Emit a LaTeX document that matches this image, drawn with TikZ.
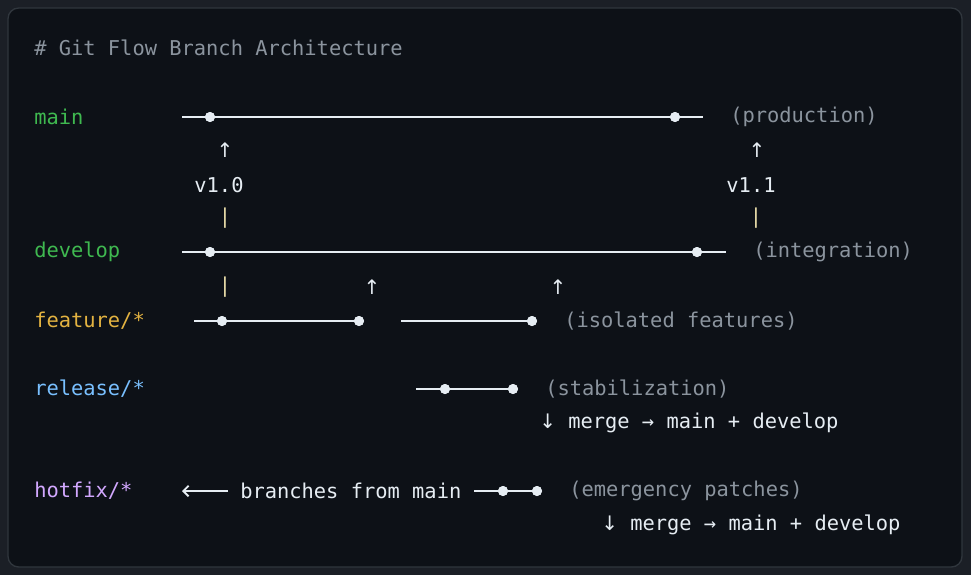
\documentclass[tikz,border=0pt]{standalone}
\usepackage{fontspec}
\setmonofont{DejaVu Sans Mono}
\newfontfamily\arrowfont{DejaVu Sans}
\usetikzlibrary{arrows.meta}
\begin{document}
\begin{tikzpicture}[x=0.75pt,y=-0.75pt,
  txt/.style={font=\ttfamily\fontsize{15.3}{16}\selectfont,inner sep=0pt,anchor=west},
  ctr/.style={font=\ttfamily\fontsize{15.3}{16}\selectfont,inner sep=0pt},
  br/.style={draw=lineW,line width=1.4pt},
  dot/.style={circle,fill=dotW,inner sep=0pt,minimum size=7.5pt}]
\definecolor{outerbg}{HTML}{1B1F26}
\definecolor{panel}{HTML}{0D1117}
\definecolor{bord}{HTML}{30363D}
\definecolor{cgreen}{HTML}{3FB950}
\definecolor{corange}{HTML}{E3B341}
\definecolor{cblue}{HTML}{79C0FF}
\definecolor{cpurple}{HTML}{D2A8FF}
\definecolor{cgray}{HTML}{8B949E}
\definecolor{cwhite}{HTML}{E6EDF3}
\definecolor{lineW}{HTML}{E6EDF3}
\definecolor{dotW}{HTML}{E6EDF3}
\definecolor{pipe}{HTML}{E8DCA8}
\newcommand\ar[1]{{\arrowfont\fontsize{15}{16}\selectfont #1}}
\useasboundingbox (0,0) rectangle (971,575);
\fill[outerbg] (0,0) rectangle (971,575);
\draw[bord,fill=panel,rounded corners=8pt,line width=1pt] (8,8) rectangle (962,567);
\node[txt,text=cgray] (title) at (34,48) {\# Git Flow Branch Architecture};
% main
\node[txt,text=cgreen] (lmain) at (34,117) {main};
\coordinate (m0) at (182,117); \coordinate (m1) at (703,117);
\draw[br] (m0) -- (m1);
\node[dot] (md1) at (210,117) {}; \node[dot] (md2) at (675,117) {};
\node[txt,text=cgray] (prod) at (730,117) {(production)};
\node[ctr,text=cwhite] (ua) at (225,150) {\ar{↑}};
\node[ctr,text=cwhite] (v10) at (219,185) {v1.0};
\node[ctr,text=pipe] (pa) at (225,218) {|};
\node[ctr,text=cwhite] (ub) at (757,150) {\ar{↑}};
\node[ctr,text=cwhite] (v11) at (751,185) {v1.1};
\node[ctr,text=pipe] (pb) at (756,218) {|};
% develop
\node[txt,text=cgreen] (ldev) at (34,252) {develop};
\coordinate (d0) at (182,252); \coordinate (d1) at (726,252);
\draw[br] (d0) -- (d1);
\node[dot] (dd1) at (210,252) {}; \node[dot] (dd2) at (697,252) {};
\node[txt,text=cgray] (integ) at (753,252) {(integration)};
\node[ctr,text=pipe] (pc) at (225,287) {|};
\node[ctr,text=cwhite] (uc) at (372,287) {\ar{↑}};
\node[ctr,text=cwhite] (ud) at (558,287) {\ar{↑}};
% feature
\node[txt,text=corange] (lfeat) at (34,321) {feature/*};
\coordinate (f0) at (194,321); \coordinate (f2) at (401,321);
\node[dot] (fd1) at (222,321) {}; \node[dot] (fd2) at (359,321) {};
\node[dot] (fd3) at (532,321) {};
\draw[br] (f0) -- (fd2.center); \draw[br] (f2) -- (fd3.center);
\node[dot] at (222,321) {}; \node[dot] at (359,321) {}; \node[dot] at (532,321) {};
\node[txt,text=cgray] (iso) at (564,321) {(isolated features)};
% release
\node[txt,text=cblue] (lrel) at (34,389) {release/*};
\coordinate (r0) at (416,389);
\node[dot] (rd1) at (445,389) {}; \node[dot] (rd2) at (513,389) {};
\draw[br] (r0) -- (rd2.center);
\node[dot] at (445,389) {}; \node[dot] at (513,389) {};
\node[txt,text=cgray] (stab) at (545,389) {(stabilization)};
\node[txt,text=cwhite] (merge1) at (539,423) {\ar{↓} merge → main + develop};
% hotfix
\node[txt,text=cpurple] (lhot) at (34,491) {hotfix/*};
\coordinate (h0) at (182,491); \coordinate (h1) at (228,491);
\draw[lineW,line width=1.4pt,-{Straight Barb[length=4pt]}] (h1) -- (h0);
\node[txt,text=cwhite] (bfm) at (240,491) {branches from main};
\coordinate (h2) at (474,491);
\node[dot] (hd1) at (503,491) {}; \node[dot] (hd2) at (537,491) {};
\draw[br] (h2) -- (hd2.center);
\node[dot] at (503,491) {}; \node[dot] at (537,491) {};
\node[txt,text=cgray] (emer) at (569,491) {(emergency patches)};
\node[txt,text=cwhite] (merge2) at (601,525) {\ar{↓} merge → main + develop};
\node[dot] at (210,117) {}; \node[dot] at (675,117) {};
\node[dot] at (210,252) {}; \node[dot] at (697,252) {};
\end{tikzpicture}
\end{document}
